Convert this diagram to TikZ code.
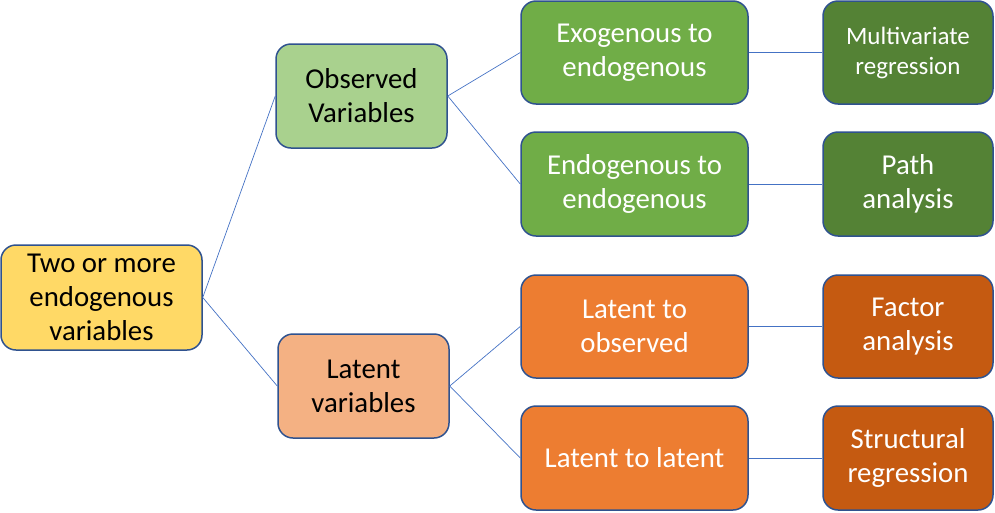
\documentclass[tikz,border=0pt]{standalone}
\usepackage{fontspec}
\setmainfont{Carlito}
\definecolor{bordc}{HTML}{2F528F}
\definecolor{linec}{HTML}{4472C4}
\definecolor{yel}{HTML}{FFD966}
\definecolor{lgreen}{HTML}{A9D18E}
\definecolor{lorange}{HTML}{F4B183}
\definecolor{mgreen}{HTML}{70AD47}
\definecolor{dgreen}{HTML}{548235}
\definecolor{morange}{HTML}{ED7D31}
\definecolor{dorange}{HTML}{C55A11}
\begin{document}
\begin{tikzpicture}[x=1pt,y=-1pt,
  box/.style={draw=bordc, line width=1.5pt, rounded corners=15pt, align=center, inner sep=0pt},
  bigtxt/.style={font=\fontsize{28.8}{34}\selectfont},
  smtxt/.style={font=\fontsize{25}{30}\selectfont},
  conn/.style={draw=linec, line width=0.7pt}]
\useasboundingbox (0,0) rectangle (995,512);
\node[box, bigtxt, fill=yel, minimum width=201pt, minimum height=105pt] (root) at (101.5,297.5) {Two or more\\endogenous\\variables};
\node[box, bigtxt, fill=lgreen, minimum width=171pt, minimum height=104pt] (obs) at (361.5,96) {Observed\\Variables};
\node[box, bigtxt, fill=lorange, minimum width=171pt, minimum height=104pt] (lat) at (363.5,386) {Latent\\variables};
\node[box, bigtxt, fill=mgreen, text=white, minimum width=227pt, minimum height=103pt] (exo) at (634.5,52.5) {Exogenous to\\endogenous};
\node[box, bigtxt, fill=mgreen, text=white, minimum width=227pt, minimum height=104pt] (endo) at (634.5,184) {Endogenous to\\endogenous};
\node[box, bigtxt, fill=morange, text=white, minimum width=227pt, minimum height=103pt] (lo) at (634.5,326.5) {Latent to\\observed};
\node[box, bigtxt, fill=morange, text=white, minimum width=227pt, minimum height=104pt] (ll) at (634.5,458) {Latent to latent};
\node[box, smtxt, fill=dgreen, text=white, minimum width=170pt, minimum height=103pt] (mr) at (908,52.5) {Multivariate\\regression};
\node[box, bigtxt, fill=dgreen, text=white, minimum width=170pt, minimum height=104pt] (pa) at (908,184) {Path\\analysis};
\node[box, bigtxt, fill=dorange, text=white, minimum width=170pt, minimum height=103pt] (fa) at (908,326.5) {Factor\\analysis};
\node[box, bigtxt, fill=dorange, text=white, minimum width=170pt, minimum height=104pt] (sr) at (908,458) {Structural\\regression};
\draw[conn] (root.east) -- (obs.west);
\draw[conn] (root.east) -- (lat.west);
\draw[conn] (obs.east) -- (exo.west);
\draw[conn] (obs.east) -- (endo.west);
\draw[conn] (lat.east) -- (lo.west);
\draw[conn] (lat.east) -- (ll.west);
\draw[conn] (exo.east) -- (mr.west);
\draw[conn] (endo.east) -- (pa.west);
\draw[conn] (lo.east) -- (fa.west);
\draw[conn] (ll.east) -- (sr.west);
\end{tikzpicture}
\end{document}
